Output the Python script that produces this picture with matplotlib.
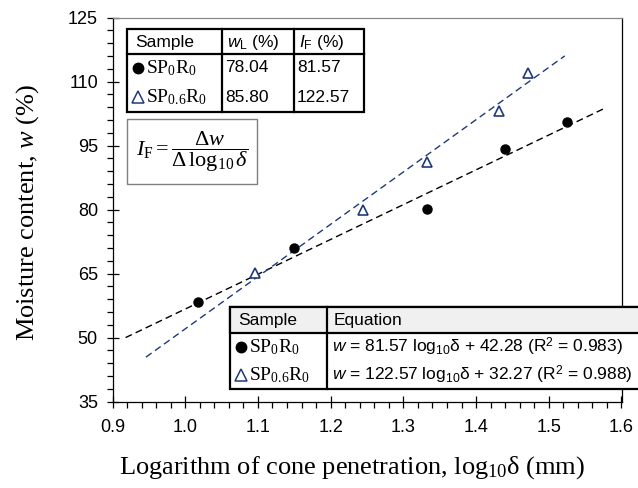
import numpy as np
import matplotlib
matplotlib.use("Agg")
import matplotlib.pyplot as plt
from matplotlib.patches import Rectangle

# === Data ===
sp0_x = [1.018, 1.150, 1.333, 1.440, 1.525]
sp0_w = [58.4, 70.9, 80.2, 94.2, 100.4]
sp06_x = [1.096, 1.244, 1.333, 1.431, 1.472]
sp06_w = [65.2, 79.8, 91.2, 103.1, 112.1]

# fitted lines: slope (from legend), intercept on plot axes, drawn x range
sp0_slope, sp0_icpt, sp0_range = 81.57, -24.9, [0.918, 1.576]
sp06_slope, sp06_icpt, sp06_range = 122.57, -70.55, [0.946, 1.522]

sample_labels = [r"$\mathrm{SP_{0}R_{0}}$", r"$\mathrm{SP_{0.6}R_{0}}$"]
wl_values = ["78.04", "85.80"]
if_values = ["81.57", "122.57"]
eq_slopes = ["81.57", "122.57"]
eq_icpts = ["42.28", "32.27"]
eq_r2 = ["0.983", "0.988"]

x_ticks = [0.9, 1.0, 1.1, 1.2, 1.3, 1.4, 1.5, 1.6]
y_ticks = [35, 50, 65, 80, 95, 110, 125]

NAVY = "#1F3A7A"

plt.rcParams["mathtext.fontset"] = "custom"
plt.rcParams["mathtext.rm"] = "Liberation Serif"
plt.rcParams["mathtext.it"] = "Liberation Serif:italic"
plt.rcParams["mathtext.sf"] = "Liberation Sans"
plt.rcParams["mathtext.bf"] = "Liberation Sans:italic"

W, H = 638, 488
fig = plt.figure(figsize=(W / 100, H / 100), dpi=100)
L, R, T, B = 112.5, 621.5, 17.5, 401.5
ax = fig.add_axes([L / W, 1 - B / H, (R - L) / W, (B - T) / H])


def px(x, y):
    return x / W, 1 - y / H


# === Plot ===
xs = np.array(sp0_range)
ax.plot(xs, sp0_slope * xs + sp0_icpt, color="black", lw=1.0, ls=(0, (5, 3)))
xs = np.array(sp06_range)
ax.plot(xs, sp06_slope * xs + sp06_icpt, color=NAVY, lw=1.0, ls=(0, (5, 3)))
ax.plot(sp0_x, sp0_w, "o", color="black", ms=6.5, ls="none")
ax.plot(sp06_x, sp06_w, "^", mfc="white", mec=NAVY, mew=1.2, ms=7, ls="none")

ax.set_xlim(0.9, 1.6)
ax.set_ylim(35, 125)
ax.set_xticks(x_ticks)
ax.set_xticklabels([f"{v:.1f}" for v in x_ticks])
ax.set_yticks(y_ticks)
ax.set_xticks(np.arange(0.9, 1.6001, 0.02), minor=True)
ax.set_yticks(np.arange(35, 125.01, 3), minor=True)
ax.tick_params(which="major", direction="inout", length=9, width=0.9)
ax.tick_params(which="minor", direction="out", length=4, width=0.9)
ax.tick_params(axis="x", pad=8)
ax.tick_params(axis="y", pad=6)
ax.tick_params(labelsize=13)
for lab in ax.get_xticklabels() + ax.get_yticklabels():
    lab.set_fontfamily("Liberation Sans")
for s in ax.spines.values():
    s.set_linewidth(0.9)
ax.spines["top"].set_color("#888888")

fig.text(*px(352, 468), r"Logarithm of cone penetration, log$_{10}$δ (mm)",
         family="Liberation Serif", fontsize=19, ha="center", va="center")
fig.text(*px(28, 212), r"Moisture content, $w$ (%)",
         family="Liberation Serif", fontsize=19, ha="center", va="center", rotation=90)


# === Tables ===
def rect(x0, y0, x1, y1, fc="white", ec="black", lw=1.6):
    fx0, fy1 = px(x0, y1)
    fig.patches.append(Rectangle((fx0, fy1), (x1 - x0) / W, (y1 - y0) / H,
                                 transform=fig.transFigure, fc=fc, ec=ec, lw=lw,
                                 zorder=5))


def hline(x0, x1, y, lw=1.6):
    fig.add_artist(plt.Line2D([x0 / W, x1 / W], [1 - y / H] * 2, color="black",
                              lw=lw, zorder=6))


def vline(x, y0, y1, lw=1.6):
    fig.add_artist(plt.Line2D([x / W] * 2, [1 - y0 / H, 1 - y1 / H], color="black",
                              lw=lw, zorder=6))


def txt(x, y, s, **kw):
    kw.setdefault("family", "Liberation Sans")
    kw.setdefault("fontsize", 12.5)
    fig.text(*px(x, y), s, ha="left", va="center", zorder=7, **kw)


def marker(x, y, i):
    if i == 0:
        fig.add_artist(plt.Line2D([x / W], [1 - y / H], marker="o", color="black",
                                  ms=7.5, zorder=7))
    else:
        fig.add_artist(plt.Line2D([x / W], [1 - y / H], marker="^", mfc="white",
                                  mec=NAVY, mew=1.1, ms=8, zorder=7))


# top table
rect(127, 29, 364, 112)
hline(127, 364, 54)
vline(222, 29, 112)
vline(294, 29, 112)
txt(135, 42, "Sample")
txt(227, 42, r"$\mathbf{w}_{\mathsf{L}}$ (%)")
txt(299, 42, r"$\mathbf{I}_{\mathsf{F}}$ (%)")
for i in range(2):
    yc = 68 + 29 * i
    marker(138, yc, i)
    txt(146, yc, sample_labels[i], fontsize=14)
    txt(225, yc, wl_values[i])
    txt(297, yc, if_values[i])

# formula box
rect(127, 119, 257, 184, ec="#7f7f7f", lw=1.0)
fig.text(*px(192, 152), r"$I_{\mathrm{F}}=\dfrac{\Delta w}{\Delta\,\log_{10}\delta}$",
         fontsize=16, ha="center", va="center", zorder=7)

# bottom table
rect(230, 307, 645, 389)
rect(230, 307, 645, 333, fc="#f0f0f0")
vline(327, 307, 389)
txt(238, 320, "Sample")
txt(334, 320, "Equation")
for i in range(2):
    yc = 347 + 28 * i
    marker(241, yc, i)
    txt(249, yc, sample_labels[i], fontsize=14)
    eq = (r"$\mathbf{w}$ = " + eq_slopes[i] + r" log$_{\mathsf{10}}$δ + " + eq_icpts[i]
          + r" (R$^{\mathsf{2}}$ = " + eq_r2[i] + ")")
    txt(332, yc, eq)

fig.savefig("out.png", dpi=100)
